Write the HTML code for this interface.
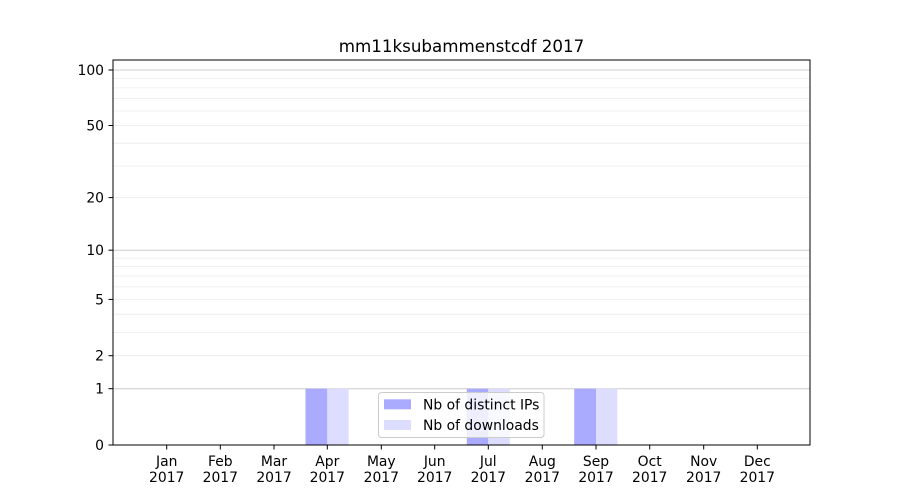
<!DOCTYPE html>
<html><head><meta charset="utf-8"><style>
html,body{margin:0;padding:0;background:#fff;}
svg{display:block;}
text{font-family:"DejaVu Sans","Liberation Sans",sans-serif;fill:#000;}
</style></head><body>
<svg width="900" height="500" viewBox="0 0 900 500" xmlns="http://www.w3.org/2000/svg">
<rect width="900" height="500" fill="#fff"/>
<!-- minor grid -->
<g stroke="#ebebeb" stroke-width="0.8">
<line x1="113" x2="810" y1="355.7" y2="355.7"/>
<line x1="113" x2="810" y1="332.4" y2="332.4"/>
<line x1="113" x2="810" y1="314.2" y2="314.2"/>
<line x1="113" x2="810" y1="299.4" y2="299.4"/>
<line x1="113" x2="810" y1="286.9" y2="286.9"/>
<line x1="113" x2="810" y1="276.0" y2="276.0"/>
<line x1="113" x2="810" y1="266.5" y2="266.5"/>
<line x1="113" x2="810" y1="258.1" y2="258.1"/>
<line x1="113" x2="810" y1="197.6" y2="197.6"/>
<line x1="113" x2="810" y1="166.0" y2="166.0"/>
<line x1="113" x2="810" y1="143.2" y2="143.2"/>
<line x1="113" x2="810" y1="125.5" y2="125.5"/>
<line x1="113" x2="810" y1="111.0" y2="111.0"/>
<line x1="113" x2="810" y1="98.6" y2="98.6"/>
<line x1="113" x2="810" y1="87.9" y2="87.9"/>
<line x1="113" x2="810" y1="78.5" y2="78.5"/>
</g>
<g stroke="#cccccc" stroke-width="1">
<line x1="113" x2="810" y1="388.7" y2="388.7"/>
<line x1="113" x2="810" y1="250.2" y2="250.2"/>
<line x1="113" x2="810" y1="70.0" y2="70.0"/>
</g>
<!-- bars -->
<rect x="305.5" y="388.7" width="21.8" height="56.3" fill="#aaaaff"/>
<rect x="327.3" y="388.7" width="21.3" height="56.3" fill="#ddddff"/>
<rect x="466.8" y="388.7" width="21.5" height="56.3" fill="#aaaaff"/>
<rect x="488.3" y="388.7" width="21.5" height="56.3" fill="#ddddff"/>
<rect x="574.2" y="388.7" width="21.8" height="56.3" fill="#aaaaff"/>
<rect x="596" y="388.7" width="21.3" height="56.3" fill="#ddddff"/>
<!-- axes frame -->
<rect x="113" y="60" width="697" height="385" fill="none" stroke="#000" stroke-width="1"/>
<!-- y ticks -->
<g stroke="#000" stroke-width="1">
<line x1="108.5" x2="113" y1="445" y2="445"/>
<line x1="108.5" x2="113" y1="388.7" y2="388.7"/>
<line x1="108.5" x2="113" y1="355.7" y2="355.7"/>
<line x1="108.5" x2="113" y1="299.4" y2="299.4"/>
<line x1="108.5" x2="113" y1="250.2" y2="250.2"/>
<line x1="108.5" x2="113" y1="197.6" y2="197.6"/>
<line x1="108.5" x2="113" y1="125.5" y2="125.5"/>
<line x1="108.5" x2="113" y1="70.0" y2="70.0"/>
</g>
<g font-size="13.9" text-anchor="end">
<text x="104" y="450">0</text>
<text x="104" y="393.7">1</text>
<text x="104" y="360.7">2</text>
<text x="104" y="304.4">5</text>
<text x="104" y="255.2">10</text>
<text x="104" y="202.6">20</text>
<text x="104" y="130.5">50</text>
<text x="104" y="75">100</text>
</g>
<!-- x ticks -->
<g stroke="#000" stroke-width="1">
<line x1="166.7" x2="166.7" y1="445" y2="449.5"/>
<line x1="220.3" x2="220.3" y1="445" y2="449.5"/>
<line x1="274" x2="274" y1="445" y2="449.5"/>
<line x1="327.3" x2="327.3" y1="445" y2="449.5"/>
<line x1="381.3" x2="381.3" y1="445" y2="449.5"/>
<line x1="434.7" x2="434.7" y1="445" y2="449.5"/>
<line x1="488.3" x2="488.3" y1="445" y2="449.5"/>
<line x1="542.3" x2="542.3" y1="445" y2="449.5"/>
<line x1="596" x2="596" y1="445" y2="449.5"/>
<line x1="649.7" x2="649.7" y1="445" y2="449.5"/>
<line x1="703.7" x2="703.7" y1="445" y2="449.5"/>
<line x1="757.3" x2="757.3" y1="445" y2="449.5"/>
</g>
<g font-size="13.9" text-anchor="middle">
<text x="166.7" y="466">Jan</text><text x="166.7" y="482">2017</text>
<text x="220.3" y="466">Feb</text><text x="220.3" y="482">2017</text>
<text x="274" y="466">Mar</text><text x="274" y="482">2017</text>
<text x="327.3" y="466">Apr</text><text x="327.3" y="482">2017</text>
<text x="381.3" y="466">May</text><text x="381.3" y="482">2017</text>
<text x="434.7" y="466">Jun</text><text x="434.7" y="482">2017</text>
<text x="488.3" y="466">Jul</text><text x="488.3" y="482">2017</text>
<text x="542.3" y="466">Aug</text><text x="542.3" y="482">2017</text>
<text x="596" y="466">Sep</text><text x="596" y="482">2017</text>
<text x="649.7" y="466">Oct</text><text x="649.7" y="482">2017</text>
<text x="703.7" y="466">Nov</text><text x="703.7" y="482">2017</text>
<text x="757.3" y="466">Dec</text><text x="757.3" y="482">2017</text>
</g>
<!-- title -->
<text x="461.5" y="52" font-size="16.7" text-anchor="middle">mm11ksubammenstcdf 2017</text>
<!-- legend -->
<rect x="378.5" y="392.5" width="165.5" height="45" rx="3" ry="3" fill="#fff" fill-opacity="0.8" stroke="#cccccc" stroke-width="1"/>
<rect x="384" y="399.3" width="27" height="10" fill="#aaaaff"/>
<rect x="384" y="420" width="27" height="10" fill="#ddddff"/>
<g font-size="13.9">
<text x="423" y="409.5">Nb of distinct IPs</text>
<text x="423" y="430.2">Nb of downloads</text>
</g>
</svg>
</body></html>
